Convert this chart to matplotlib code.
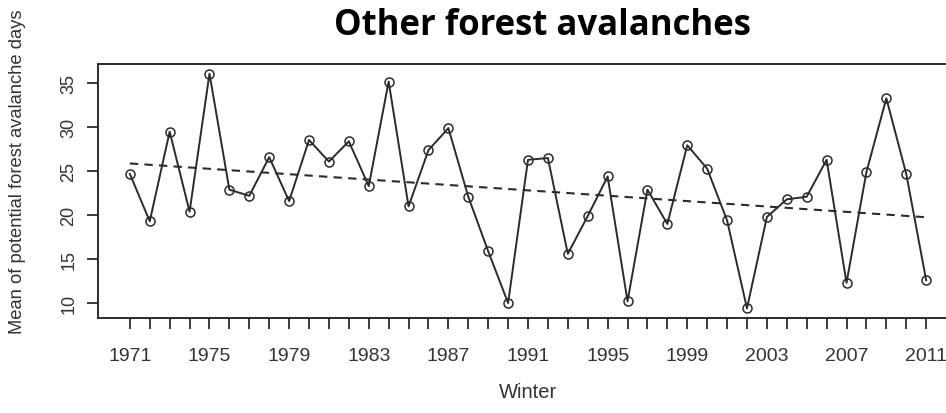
import numpy as np
import matplotlib
matplotlib.use('Agg')
import matplotlib.pyplot as plt

# winters and mean potential forest avalanche days
years = list(range(1971, 2012))
values = [24.7, 19.3, 29.5, 20.4, 36.1, 22.9, 22.2, 26.6, 21.6, 28.55,
          26.1, 28.4, 23.3, 35.2, 21.0, 27.4, 29.9, 22.1, 15.9, 10.0,
          26.3, 26.5, 15.6, 19.9, 24.4, 10.2, 22.9, 19.0, 27.95, 25.3,
          19.4, 9.4, 19.8, 21.8, 22.1, 26.3, 12.3, 24.9, 33.3, 24.7,
          12.6]
label_years = list(range(1971, 2012, 4))
y_ticks = [10, 15, 20, 25, 30, 35]

# linear trend
slope, intercept = np.polyfit(years, values, 1)
trend = [slope * y + intercept for y in years]

fig = plt.figure(figsize=(9.46, 4.14), dpi=100)
ax = fig.add_axes([98 / 946, 1 - 319 / 414, (958 - 98) / 946, (319 - 65) / 414])

line_col = '#2b2b2b'
ax.plot(years, values, color=line_col, lw=1.4, marker='o', ms=6.5,
        mfc='none', mec=line_col, mew=1.1)
ax.plot(years, trend, color=line_col, lw=1.5, ls=(0, (4, 3)))

ax.set_xlim(1969.4, 2012.6)
ax.set_ylim(8.3, 37.2)

ax.set_xticks(years)
ax.set_xticklabels([str(y) if y in label_years else '' for y in years])
ax.set_yticks(y_ticks)
ax.set_yticklabels([str(t) for t in y_ticks], rotation=90, va='center')

for lab in ax.get_xticklabels():
    lab.set_fontfamily('Liberation Sans')
    lab.set_fontsize(14)
    lab.set_color('#333333')
for lab in ax.get_yticklabels():
    lab.set_fontfamily('Liberation Sans')
    lab.set_fontsize(13)
    lab.set_color('#333333')
ax.tick_params(axis='both', direction='out', length=8, width=1.3, color=line_col)
ax.tick_params(axis='x', pad=13)
ax.tick_params(axis='y', pad=7)

for side in ['left', 'top', 'bottom']:
    ax.spines[side].set_linewidth(1.4)
    ax.spines[side].set_color(line_col)
ax.spines['right'].set_visible(False)

ax.set_xlabel('Winter', fontfamily='Liberation Sans', fontsize=14.5, color='#333333', labelpad=13)
fig.text(18 / 946, 1 - 172 / 414, 'Mean of potential forest avalanche days',
         rotation=90, ha='center', va='center', fontfamily='Liberation Sans',
         fontsize=13.2, color='#333333')

fig.text(543 / 946, 1 - 26 / 414, 'Other forest avalanches', ha='center', va='center',
         fontfamily='Open Sans', fontweight='bold', fontsize=25, color='black')

fig.savefig('out.png', dpi=100)
